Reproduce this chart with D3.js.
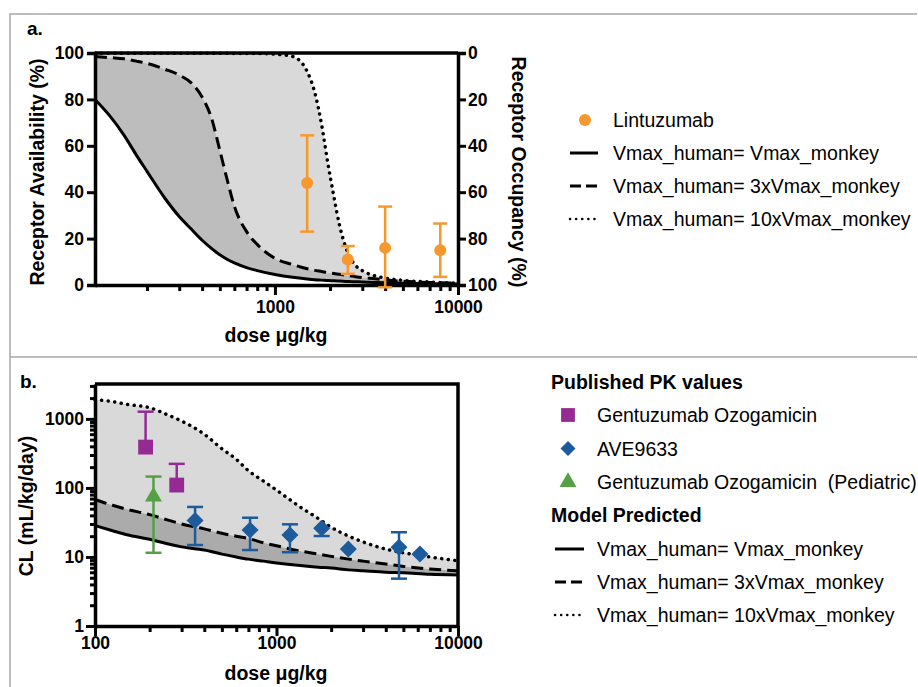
<!DOCTYPE html>
<html>
<head>
<meta charset="utf-8">
<script src="https://cdn.jsdelivr.net/npm/d3@7"></script>
<style>
  body { margin: 0; background: #fff; }
  text { font-family: "Liberation Sans", Arial, Helvetica, sans-serif; white-space: pre; }
</style>
</head>
<body>
<div id="chart"></div>
<script>
// ---- panel a: receptor availability vs dose ----
var doseA = [104, 125, 150, 175, 200, 250, 300, 350, 400, 450, 500, 550, 600, 700, 800, 1000, 1250, 1500, 1650, 1800, 1950, 2100, 2250, 2500, 2750, 3000, 3500, 4000, 5000, 7000, 10000]
var raSolid = [80, 73, 64.5, 56, 49, 37.5, 29.5, 24, 19.3, 15.8, 13, 11, 9.5, 7.5, 6.2, 4.5, 3.3, 2.6, 2.3, 2.1, 1.9, 1.8, 1.7, 1.5, 1.4, 1.3, 1.1, 1.0, 0.8, 0.55, 0.4]
var raDashed = [98.5, 98, 97.5, 96.5, 95.5, 93, 90.5, 87, 81, 72, 58, 45, 34, 23, 17.5, 11.5, 8.8, 7, 6.3, 5.8, 5.3, 5, 4.6, 4.1, 3.6, 3.2, 2.7, 2.2, 1.6, 1.1, 0.8]
var raDotted = [99.9, 99.9, 99.9, 99.9, 99.9, 99.9, 99.9, 99.9, 99.9, 99.9, 99.9, 99.9, 99.8, 99.8, 99.8, 99.5, 98.5, 92, 83, 69, 52, 38, 26, 14, 8.5, 6.2, 4, 3, 2, 1.3, 0.8]

var lintDose = [1500, 2500, 4000, 8000]
var lintMean = [44, 11, 16, 15]
var lintHi = [64.5, 16.8, 33.8, 26.5]
var lintLo = [23, 4.8, -1, 3.5]

// ---- panel b: clearance vs dose ----
var doseB = [100, 125, 150, 200, 250, 300, 400, 500, 600, 700, 850, 1000, 1350, 1700, 2000, 2500, 3000, 4000, 5000, 7000, 10000]
var clSolid = [28.5, 24, 21, 18, 15.5, 14, 12.6, 11, 10, 9.3, 8.7, 8.2, 7.5, 7.1, 6.9, 6.5, 6.3, 6.0, 5.9, 5.6, 5.5]
var clDashed = [68, 56, 49, 41, 34.5, 30, 25.5, 22, 20, 18.5, 16, 14.5, 12.2, 11, 10.2, 9.3, 8.7, 7.9, 7.3, 6.7, 6.3]
var clDotted = [1900, 1780, 1620, 1450, 1150, 930, 600, 370, 260, 178, 125, 93, 53, 36, 27, 20, 16.5, 13, 11.5, 10, 8.8]

var goDose = [190, 282]
var goMean = [390, 110]
var goHi = [1270, 223]

var aveDose = [356, 715, 1186, 1774, 2488, 4730, 6170]
var aveMean = [33.6, 24.6, 20.8, 26, 13, 13.8, 11]
var aveHi = [53, 37, 29.7, null, null, 22.8, null]
var aveLo = [14.9, 12.6, 11.7, 20.1, null, 4.85, null]

var pedDose = [210]
var pedMean = [75]
var pedHi = [146]
var pedLo = [11.5]

var legendA = ["Vmax_human= Vmax_monkey", "Vmax_human= 3xVmax_monkey", "Vmax_human= 10xVmax_monkey"]
var legendB = ["Gentuzumab Ozogamicin", "AVE9633", "Gentuzumab Ozogamicin  (Pediatric)"]

var width = 918
var height = 687
var orange = '#f5992e'
var purple = '#952a93'
var blue = '#1c5c9c'
var green = '#55a044'
var dashes = { solid: null, dashed: '12,6', dotted: '0.1,6.5' }
var styles = ['solid', 'dashed', 'dotted']

var svg = d3.select('#chart')
    .append('svg')
    .attr('width', width)
    .attr('height', height)

// panel frames
svg.append('path')
    .attr('d', 'M917,14 H10 V687 M10,357 H917')
    .attr('fill', 'none')
    .attr('stroke', '#a8a8a8')
    .attr('stroke-width', 1.5)

function label(x, y, txt, size, weight, anchor, rot) {
    var t = svg.append('text')
        .attr('font-size', size)
        .attr('font-weight', weight)
        .attr('text-anchor', anchor || 'start')
        .attr('dominant-baseline', 'central')
        .text(txt)
    if (rot) t.attr('transform', 'translate(' + x + ',' + y + ') rotate(' + rot + ')')
    else t.attr('x', x).attr('y', y)
    return t
}

function logTicks(lo, hi) {
    var out = []
    for (var p = Math.floor(Math.log10(lo)); p <= Math.ceil(Math.log10(hi)); p++) {
        for (var m = 1; m < 10; m++) {
            var v = m * Math.pow(10, p)
            if (v >= lo - 1e-9 && v <= hi + 1e-9) out.push(v)
        }
    }
    return out
}
function isMajor(v) { return Math.abs(Math.log10(v) - Math.round(Math.log10(v))) < 1e-9 }

// diamond as a square turned 45 degrees
function diamond(h) { return 'M0,' + (-h) + 'L' + h + ',0L0,' + h + 'L' + (-h) + ',0Z' }

// ================= PANEL A =================
var xA = d3.scaleLog().domain([104, 10000]).range([95, 458])
var yA = d3.scaleLinear().domain([0, 100]).range([285, 53])
var yA2 = d3.scaleLinear().domain([100, 0]).range([285, 53])

var gA = svg.append('g')

var areaA = function (lo, hi) {
    return d3.area()
        .x(function (d, i) { return xA(doseA[i]) })
        .y0(function (d, i) { return yA(lo[i]) })
        .y1(function (d, i) { return yA(hi[i]) })
        .curve(d3.curveMonotoneX)(doseA)
}
gA.append('path').attr('d', areaA(raDashed, raDotted)).attr('fill', '#d9d9d9')
gA.append('path').attr('d', areaA(raSolid, raDashed)).attr('fill', '#bdbdbd')

var lineA = d3.line()
    .x(function (d) { return xA(d[0]) })
    .y(function (d) { return yA(d[1]) })
    .curve(d3.curveMonotoneX)
;[raSolid, raDashed, raDotted].forEach(function (vals, k) {
    gA.append('path')
        .attr('d', lineA(doseA.map(function (d, i) { return [d, vals[i]] })))
        .attr('fill', 'none')
        .attr('stroke', '#000')
        .attr('stroke-width', k == 2 ? 3.5 : 3)
        .attr('stroke-linecap', k == 2 ? 'round' : 'butt')
        .attr('stroke-dasharray', dashes[styles[k]])
})

// axes a
var axA = gA.append('g').attr('transform', 'translate(0,285)')
    .call(d3.axisBottom(xA).tickValues(logTicks(104, 10000)).tickFormat(function (d) { return isMajor(d) ? d : '' }).tickSize(0))
axA.selectAll('.tick line').attr('y2', function (d) { return isMajor(d) ? 10 : 6 })
var ayA = gA.append('g').attr('transform', 'translate(95,0)')
    .call(d3.axisLeft(yA).tickValues([0, 20, 40, 60, 80, 100]).tickSize(8).tickPadding(3))
var ayA2 = gA.append('g').attr('transform', 'translate(458,0)')
    .call(d3.axisRight(yA2).tickValues([0, 20, 40, 60, 80, 100]).tickSize(8).tickPadding(2))
gA.append('line').attr('x1', 95).attr('x2', 458).attr('y1', 53).attr('y2', 53)
    .attr('stroke', '#000').attr('stroke-width', 3.5)

// lintuzumab points
var lint = gA.selectAll('.lint').data(lintDose).enter().append('g')
lint.append('line')
    .attr('x1', function (d) { return xA(d) }).attr('x2', function (d) { return xA(d) })
    .attr('y1', function (d, i) { return yA(lintHi[i]) }).attr('y2', function (d, i) { return yA(lintLo[i]) })
    .attr('stroke', orange).attr('stroke-width', 2.5)
;[lintHi, lintLo].forEach(function (arr) {
    lint.append('line')
        .attr('x1', function (d) { return xA(d) - 7 }).attr('x2', function (d) { return xA(d) + 7 })
        .attr('y1', function (d, i) { return yA(arr[i]) }).attr('y2', function (d, i) { return yA(arr[i]) })
        .attr('stroke', orange).attr('stroke-width', 2.5)
})
lint.append('circle')
    .attr('cx', function (d) { return xA(d) }).attr('cy', function (d, i) { return yA(lintMean[i]) })
    .attr('r', 6).attr('fill', orange)

// ================= PANEL B =================
var xB = d3.scaleLog().domain([100, 10000]).range([95, 458])
var yB = d3.scaleLog().domain([1, 3200]).range([626, 384])
var gB = svg.append('g')

var areaB = function (lo, hi) {
    return d3.area()
        .x(function (d, i) { return xB(doseB[i]) })
        .y0(function (d, i) { return yB(lo[i]) })
        .y1(function (d, i) { return yB(hi[i]) })
        .curve(d3.curveMonotoneX)(doseB)
}
gB.append('path').attr('d', areaB(clDashed, clDotted)).attr('fill', '#d9d9d9')
gB.append('path').attr('d', areaB(clSolid, clDashed)).attr('fill', '#ababab')

var lineB = d3.line()
    .x(function (d) { return xB(d[0]) })
    .y(function (d) { return yB(d[1]) })
    .curve(d3.curveMonotoneX)
;[clSolid, clDashed, clDotted].forEach(function (vals, k) {
    gB.append('path')
        .attr('d', lineB(doseB.map(function (d, i) { return [d, vals[i]] })))
        .attr('fill', 'none')
        .attr('stroke', '#000')
        .attr('stroke-width', k == 2 ? 3.5 : 3)
        .attr('stroke-linecap', k == 2 ? 'round' : 'butt')
        .attr('stroke-dasharray', dashes[styles[k]])
})

var axB = gB.append('g').attr('transform', 'translate(0,626)')
    .call(d3.axisBottom(xB).tickValues(logTicks(100, 10000)).tickFormat(function (d) { return isMajor(d) ? d : '' }).tickSize(0))
axB.selectAll('.tick line').attr('y2', function (d) { return isMajor(d) ? 10 : 6 })
var ayB = gB.append('g').attr('transform', 'translate(95,0)')
    .call(d3.axisLeft(yB).tickValues(logTicks(1, 3000)).tickFormat(function (d) { return isMajor(d) ? d : '' }).tickSize(0).tickPadding(11))
ayB.selectAll('.tick line').attr('x2', function (d) { return isMajor(d) ? -9 : -5 })
gB.append('path').attr('d', 'M95,384 H458 V626')
    .attr('fill', 'none').attr('stroke', '#000').attr('stroke-width', 3.5)

// error bars helper
function errBars(g, xs, mean, hi, lo, color, x, y) {
    xs.forEach(function (d, i) {
        var cx = x(d)
        var top = hi && hi[i] != null ? hi[i] : mean[i]
        var bot = lo && lo[i] != null ? lo[i] : mean[i]
        g.append('line').attr('x1', cx).attr('x2', cx).attr('y1', y(top)).attr('y2', y(bot))
            .attr('stroke', color).attr('stroke-width', 2.5)
        if (hi && hi[i] != null) g.append('line').attr('x1', cx - 8).attr('x2', cx + 8).attr('y1', y(top)).attr('y2', y(top))
            .attr('stroke', color).attr('stroke-width', 2.5)
        if (lo && lo[i] != null) g.append('line').attr('x1', cx - 8).attr('x2', cx + 8).attr('y1', y(bot)).attr('y2', y(bot))
            .attr('stroke', color).attr('stroke-width', 2.5)
    })
}
errBars(gB, goDose, goMean, goHi, null, purple, xB, yB)
errBars(gB, pedDose, pedMean, pedHi, pedLo, green, xB, yB)
errBars(gB, aveDose, aveMean, aveHi, aveLo, blue, xB, yB)

var sq = d3.symbol().type(d3.symbolSquare).size(220)
var tri = d3.symbol().type(d3.symbolTriangle).size(125)
gB.selectAll('.go').data(goDose).enter().append('path')
    .attr('d', sq).attr('fill', purple)
    .attr('transform', function (d, i) { return 'translate(' + xB(d) + ',' + yB(goMean[i]) + ')' })
gB.selectAll('.ave').data(aveDose).enter().append('path')
    .attr('d', diamond(8.5)).attr('fill', blue)
    .attr('transform', function (d, i) { return 'translate(' + xB(d) + ',' + yB(aveMean[i]) + ')' })
gB.selectAll('.ped').data(pedDose).enter().append('path')
    .attr('d', tri).attr('fill', green)
    .attr('transform', function (d, i) { return 'translate(' + xB(d) + ',' + yB(pedMean[i]) + ')' })

// axis styling
svg.selectAll('.domain').attr('stroke-width', 3.5)
svg.selectAll('.tick line').attr('stroke-width', 3)
svg.selectAll('.tick text').attr('font-size', 17.5).attr('font-weight', 'bold').attr('fill', '#000')
axA.selectAll('.tick text').attr('dy', '1.4em')
axB.selectAll('.tick text').attr('dy', '1.15em')

// titles
label(27, 28, 'a.', 19, 'bold')
label(20, 381, 'b.', 19, 'bold')
label(276, 335, 'dose \u03bcg/kg', 19.5, 'bold', 'middle')
label(276, 673, 'dose \u03bcg/kg', 19.5, 'bold', 'middle')
label(37, 172, 'Receptor Availability (%)', 19.5, 'bold', 'middle', -90)
label(519, 172, 'Receptor Occupancy (%)', 19.5, 'bold', 'middle', 90)
label(26, 506, 'CL (mL/kg/day)', 19.5, 'bold', 'middle', -90)

// legend a
svg.append('circle').attr('cx', 585).attr('cy', 120).attr('r', 6).attr('fill', orange)
label(613, 120, 'Lintuzumab', 19.5, 'normal')
legendA.forEach(function (txt, k) {
    var y = 153 + k * 33
    svg.append('line').attr('x1', 570).attr('x2', 598).attr('y1', y).attr('y2', y)
        .attr('stroke', '#000').attr('stroke-width', k == 2 ? 2.5 : 3)
        .attr('stroke-linecap', k == 2 ? 'round' : 'butt')
        .attr('stroke-dasharray', k == 0 ? null : (k == 1 ? '11,5' : '0.1,6'))
    label(613, y, txt, 19.5, 'normal')
})

// legend b
label(551, 382, 'Published PK values', 19.5, 'bold')
var colB = [purple, blue, green]
legendB.forEach(function (txt, k) {
    var y = 415 + k * 33.5
    var m = k == 0 ? d3.symbol().type(d3.symbolSquare).size(190)() : (k == 1 ? diamond(7.5) : tri())
    svg.append('path').attr('d', m).attr('fill', colB[k])
        .attr('transform', 'translate(568,' + y + ')')
    label(597, y, txt, 19.5, 'normal')
})
label(551, 515, 'Model Predicted', 19.5, 'bold')
legendA.forEach(function (txt, k) {
    var y = 549 + k * 33
    svg.append('line').attr('x1', 555).attr('x2', 584).attr('y1', y).attr('y2', y)
        .attr('stroke', '#000').attr('stroke-width', k == 2 ? 2.5 : 3)
        .attr('stroke-linecap', k == 2 ? 'round' : 'butt')
        .attr('stroke-dasharray', k == 0 ? null : (k == 1 ? '11,5' : '0.1,6'))
    label(597, y, txt, 19.5, 'normal')
})
</script>
</body>
</html>
